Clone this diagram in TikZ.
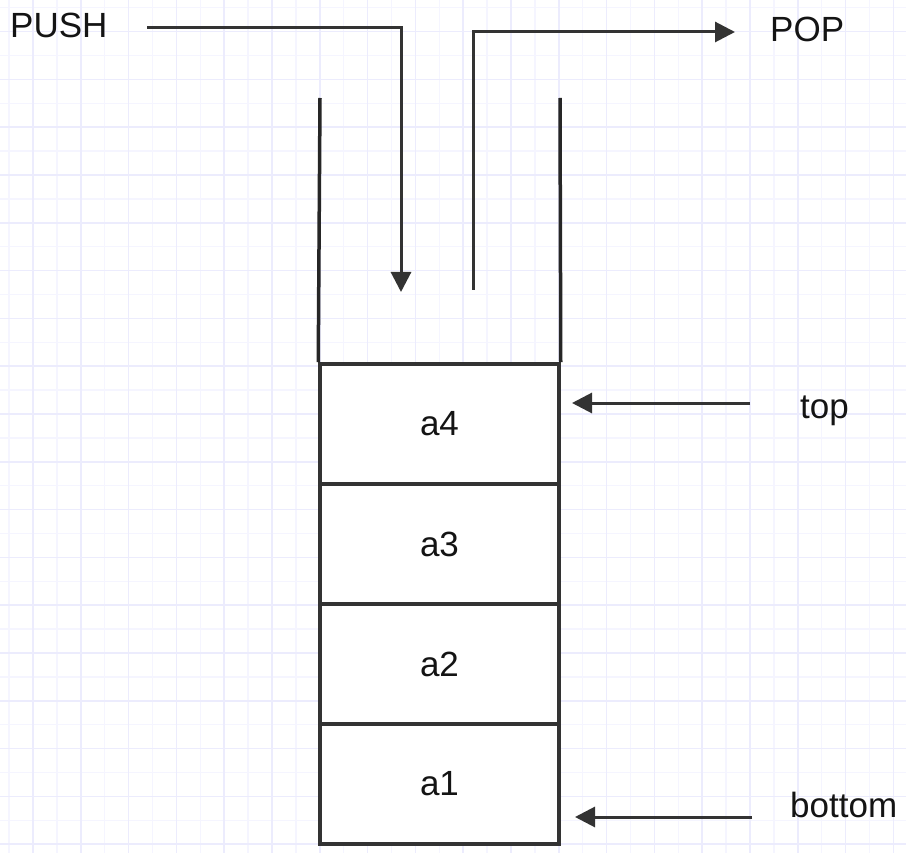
\documentclass[tikz,border=0pt]{standalone}
\usepackage{fontspec}
\setmainfont{Liberation Sans}
\usetikzlibrary{arrows.meta}
\definecolor{gridmajor}{RGB}{236,236,253}
\definecolor{gridminor}{RGB}{245,245,255}
\definecolor{ink}{RGB}{51,51,51}
\definecolor{txt}{RGB}{20,20,20}
\tikzset{
  cell/.style={draw=ink, line width=3.5pt, fill=white, minimum width=239pt, minimum height=120pt, inner sep=0pt, text=txt, font=\fontsize{35}{42}\selectfont},
  lbl/.style={anchor=base west, inner sep=0pt, text=txt, font=\fontsize{35}{42}\selectfont},
  wall/.style={draw=black!85, line width=3.5pt},
  arr/.style={draw=ink, line width=3pt, -{Triangle[length=20pt,width=20pt]}},
}
\begin{document}
\begin{tikzpicture}[x=1pt,y=-1pt]
\useasboundingbox (0,0) rectangle (906,853);
\fill[white] (0,0) rectangle (906,853);
% grid
\foreach \k in {0,...,19}{
  \draw[gridminor, line width=1.5pt] ({9.1+47.8*\k},0) -- ({9.1+47.8*\k},853);
  \draw[gridminor, line width=1.5pt] (0,{7.7+47.8*\k}) -- (906,{7.7+47.8*\k});
}
\foreach \k in {0,...,19}{
  \draw[gridmajor, line width=1.6pt] ({33+47.8*\k},0) -- ({33+47.8*\k},853);
  \draw[gridmajor, line width=1.6pt] (0,{31.6+47.8*\k}) -- (906,{31.6+47.8*\k});
}
% stack cells
\node[cell] (a1) at (439.5,784) {a1};
\node[cell] (a2) at (439.5,664) {a2};
\node[cell] (a3) at (439.5,544) {a3};
\node[cell] (a4) at (439.5,424) {a4};
% walls
\coordinate (wl) at (320,98);
\coordinate (wr) at (560,98);
\draw[wall] (wl) -- (a4.north west);
\draw[wall] (wr) -- (a4.north east);
% labels
\node[lbl] (push) at (10,38) {PUSH};
\node[lbl] (pop) at (770,42) {POP};
\node[lbl] (top) at (800,418) {top};
\node[lbl] (bottom) at (790,817) {bottom};
% connectors
\coordinate (pushS) at (147,28);
\coordinate (pushT) at (401,292);
\draw[arr] (pushS) -| (pushT);
\coordinate (popS) at (473,290);
\coordinate (popT) at (735,32);
\draw[arr] (popS) |- (popT);
\coordinate (topS) at (750,403);
\coordinate (topT) at (572,403);
\draw[arr] (topS) -- (topT);
\coordinate (botS) at (752,817);
\coordinate (botT) at (575,817);
\draw[arr] (botS) -- (botT);
\end{tikzpicture}
\end{document}
